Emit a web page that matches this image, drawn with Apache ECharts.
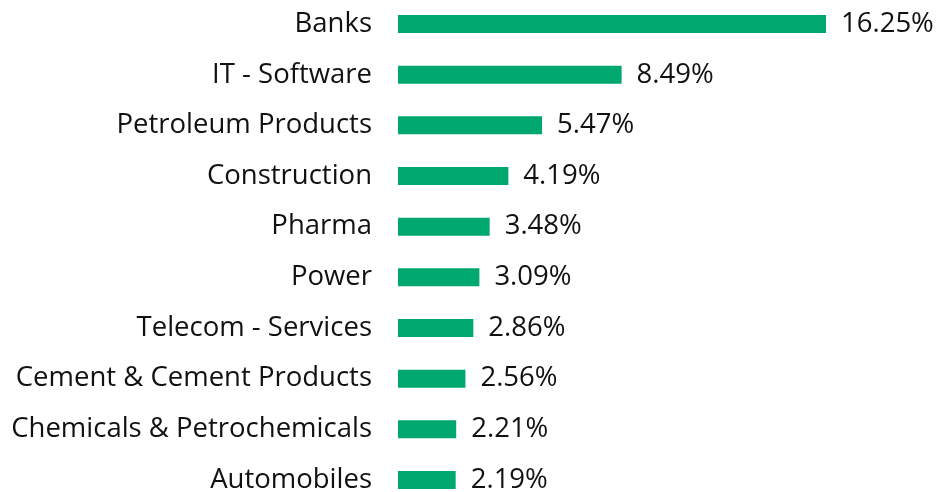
<!DOCTYPE html>
<html><head><meta charset="utf-8">
<script src="https://cdn.jsdelivr.net/npm/echarts@6/dist/echarts.min.js"></script>
<style>html,body{margin:0;padding:0;background:#fff}#c{width:938px;height:492px}</style>
</head><body><div id="c"></div>
<script>
const categories = ["Banks","IT - Software","Petroleum Products","Construction","Pharma","Power","Telecom - Services","Cement & Cement Products","Chemicals & Petrochemicals","Automobiles"];
const values = [16.25, 8.49, 5.47, 4.19, 3.48, 3.09, 2.86, 2.56, 2.21, 2.19];
const chart = echarts.init(document.getElementById('c'));
chart.setOption({
  animation:false,
  grid:{left:398, top:-1.3, bottom:-13.3, width:428, containLabel:false, outerBoundsMode:'none'},
  xAxis:{type:'value', min:0, max:16.25, show:false},
  yAxis:{type:'category', data:categories, inverse:true,
    axisLine:{show:false}, axisTick:{show:false},
    axisLabel:{margin:26, fontSize:27.5, color:'#111', fontFamily:'Open Sans'}},
  series:[{type:'bar', data:values, barWidth:18, itemStyle:{color:'#00a76f'},
    label:{show:true, position:'right', distance:15, fontSize:27.5, color:'#111', fontFamily:'Open Sans',
      formatter:p=>p.value.toFixed(2)+'%'}}]
});
</script></body></html>
